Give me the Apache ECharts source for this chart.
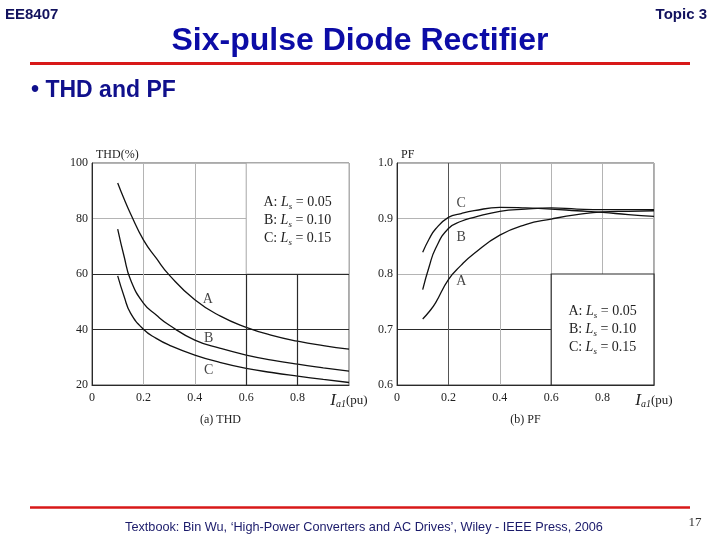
<!DOCTYPE html>
<html><head><meta charset="utf-8">
<script src="https://cdn.jsdelivr.net/npm/echarts@6/dist/echarts.min.js"></script>
<style>html,body{margin:0;padding:0;background:#fff}#c{width:720px;height:540px}</style>
</head><body><div id="c"></div>
<script>
// ---- data ----
const thdX = [0.1, 0.125, 0.15, 0.2, 0.25, 0.3, 0.4, 0.5, 0.6, 0.7, 0.8, 0.9, 1.0];
const thdA = [92.8, 87.0, 81.7, 72.3, 65.7, 59.7, 50.7, 44.8, 40.8, 37.9, 35.8, 34.2, 32.9];
const thdB = [76.2, 66.3, 57.9, 49.5, 45.2, 41.6, 36.2, 33.2, 30.8, 29.0, 27.5, 26.2, 25.0];
const thdC = [59.3, 51.9, 45.9, 40.1, 36.8, 34.4, 30.8, 28.1, 26.0, 24.5, 23.2, 22.0, 20.9];
const pfX = [0.1, 0.125, 0.15, 0.2, 0.25, 0.3, 0.4, 0.5, 0.6, 0.7, 0.8, 0.9, 1.0];
const pfA = [0.719, 0.732, 0.748, 0.790, 0.816, 0.837, 0.870, 0.889, 0.899, 0.907, 0.912, 0.913, 0.914];
const pfB = [0.772, 0.813, 0.846, 0.882, 0.895, 0.902, 0.913, 0.917, 0.919, 0.917, 0.916, 0.916, 0.916];
const pfC = [0.839, 0.863, 0.881, 0.902, 0.909, 0.914, 0.920, 0.919, 0.917, 0.914, 0.911, 0.907, 0.904];
const curveNames = ['A', 'B', 'C'];
const thdLabelPos = [[0.451, 50.7], [0.454, 36.8], [0.454, 25.4]];
const pfLabelPos = [[0.25, 0.786], [0.25, 0.866], [0.25, 0.928]];
const lsValues = ['0.05', '0.10', '0.15'];
const thdTicks = {min: 20, max: 100, interval: 20};
const pfTicks = {min: 0.6, max: 1.0, interval: 0.1};
const xTicks = {min: 0, max: 1, interval: 0.2};

// ---- styles ----
const SERIF = 'Liberation Serif';
const SANS = 'Liberation Sans';
const LIGHT = '#b4b4b4', DARK = '#2a2a2a';
const zip = (xs, ys) => xs.map((x, i) => [x, ys[i]]);

const legendText = curveNames.map((n, i) => `{n|${n}: }{i|L}{s|s}{n| = ${lsValues[i]}}`).join('\n');
const legendRich = {
  n: {fontFamily: SERIF, fontSize: 14, color: '#222', lineHeight: 18},
  i: {fontFamily: SERIF, fontSize: 14, fontStyle: 'italic', color: '#222', lineHeight: 18},
  s: {fontFamily: SERIF, fontSize: 9, fontStyle: 'italic', color: '#222', lineHeight: 9, verticalAlign: 'bottom'}
};
const xRich = {
  i: {fontFamily: SERIF, fontSize: 17, fontStyle: 'italic', color: '#222'},
  s: {fontFamily: SERIF, fontSize: 10, fontStyle: 'italic', color: '#222', verticalAlign: 'bottom', lineHeight: 10},
  n: {fontFamily: SERIF, fontSize: 13, color: '#222'}
};
function xAxisDef(idx, name, splitColors) {
  return {
    type: 'value', gridIndex: idx, min: xTicks.min, max: xTicks.max, interval: xTicks.interval,
    axisLine: {show: true, lineStyle: {color: DARK, width: 1}},
    axisTick: {show: false},
    splitLine: {show: true, lineStyle: {color: splitColors, width: 1}},
    axisLabel: {
      fontFamily: SERIF, fontSize: 12, color: '#222', margin: 7,
      formatter: v => Math.abs(v - 1) < 1e-9 ? '{i|I}{s|a1}{n|(pu)}' : (v === 0 ? '0' : v.toFixed(1)),
      rich: xRich
    },
    name: name, nameLocation: 'middle', nameGap: 29,
    nameTextStyle: {fontFamily: SERIF, fontSize: 12, color: '#222'}
  };
}
function yAxisDef(idx, t, name, digits, splitColors) {
  return {
    type: 'value', gridIndex: idx, min: t.min, max: t.max, interval: t.interval,
    axisLine: {show: true, lineStyle: {color: DARK, width: 1}},
    axisTick: {show: false},
    splitLine: {show: true, lineStyle: {color: splitColors, width: 1}},
    axisLabel: {fontFamily: SERIF, fontSize: 12, color: '#222', margin: 4,
      formatter: v => v.toFixed(digits)},
    name: name, nameLocation: 'end', nameGap: 2,
    nameTextStyle: {fontFamily: SERIF, fontSize: 12, color: '#222', align: 'left', padding: [0, 0, 0, 4]}
  };
}
function curve(idx, data, extra) {
  return Object.assign({
    type: 'line', xAxisIndex: idx, yAxisIndex: idx, data: data, smooth: 0.5,
    symbol: 'none', lineStyle: {color: '#111', width: 1.3}, silent: true, animation: false
  }, extra || {});
}
function labels(idx, pos) {
  return {
    type: 'scatter', xAxisIndex: idx, yAxisIndex: idx, symbolSize: 0, silent: true, animation: false,
    data: pos.map((p, i) => ({value: p, name: curveNames[i]})),
    label: {show: true, position: 'inside', formatter: '{b}', fontFamily: SERIF, fontSize: 14, color: '#111'}
  };
}

const option = {
  backgroundColor: '#fff',
  animation: false,
  grid: [
    {left: 92, top: 163, width: 257, height: 222, show: true, borderColor: '#555', borderWidth: 1},
    {left: 397, top: 163, width: 257, height: 222, show: true, borderColor: '#555', borderWidth: 1}
  ],
  xAxis: [
    xAxisDef(0, '(a) THD', [LIGHT, LIGHT, LIGHT, LIGHT, LIGHT, LIGHT]),
    xAxisDef(1, '(b) PF', [LIGHT, '#555', LIGHT, LIGHT, LIGHT, LIGHT])
  ],
  yAxis: [
    yAxisDef(0, thdTicks, 'THD(%)', 0, [LIGHT, DARK, DARK, LIGHT, LIGHT]),
    yAxisDef(1, pfTicks, 'PF', 1, [LIGHT, DARK, LIGHT, LIGHT, LIGHT])
  ],
  series: [
    curve(0, zip(thdX, thdA), {
      markArea: {silent: true,
        itemStyle: {color: '#fff', borderColor: '#aaa', borderWidth: 1},
        label: {show: true, position: 'inside', formatter: legendText, rich: legendRich, offset: [0, 2]},
        data: [[{coord: [0.6, 60]}, {coord: [1.0, 100]}]]}
    }),
    curve(0, zip(thdX, thdB)),
    curve(0, zip(thdX, thdC), {
      markLine: {silent: true, symbol: 'none', label: {show: false},
        lineStyle: {color: DARK, width: 1.2, type: 'solid'},
        data: [
          [{coord: [0.6, 60]}, {coord: [1.0, 60]}],
          [{coord: [0.6, 20]}, {coord: [0.6, 60]}],
          [{coord: [0.8, 20]}, {coord: [0.8, 60]}]
        ]}
    }),
    labels(0, thdLabelPos),
    curve(1, zip(pfX, pfA), {
      markArea: {silent: true,
        itemStyle: {color: '#fff', borderColor: DARK, borderWidth: 1.2},
        label: {show: true, position: 'inside', formatter: legendText, rich: legendRich},
        data: [[{coord: [0.6, 0.6]}, {coord: [1.0, 0.8]}]]}
    }),
    curve(1, zip(pfX, pfB)),
    curve(1, zip(pfX, pfC)),
    labels(1, pfLabelPos)
  ],
  graphic: [
    {type: 'text', left: 5, top: 7, style: {text: 'EE8407', font: 'bold 15px ' + SANS, fill: '#12125e'}},
    {type: 'text', right: 13, top: 7, style: {text: 'Topic 3', font: 'bold 15px ' + SANS, fill: '#12125e'}},
    {type: 'text', x: 360, y: 41, style: {text: 'Six-pulse Diode Rectifier', font: 'bold 32px ' + SANS,
      fill: '#0c0ca6', align: 'center', verticalAlign: 'middle'}},
    {type: 'line', shape: {x1: 30, y1: 63.5, x2: 690, y2: 63.5}, style: {stroke: '#d81818', lineWidth: 3}},
    {type: 'text', x: 31, y: 91, style: {text: '• THD and PF', font: 'bold 23px ' + SANS,
      fill: '#10108c', verticalAlign: 'middle'}},
    {type: 'line', shape: {x1: 30, y1: 507.5, x2: 690, y2: 507.5}, style: {stroke: '#d81818', lineWidth: 2.5}},
    {type: 'text', x: 364, y: 527, style: {text: 'Textbook: Bin Wu, \u2018High-Power Converters and AC Drives\u2019, Wiley - IEEE Press, 2006',
      font: '12.7px ' + SANS, fill: '#1a1a6a', align: 'center', verticalAlign: 'middle'}},
    {type: 'text', x: 695, y: 523, style: {text: '17', font: '13px ' + SERIF, fill: '#333', align: 'center', verticalAlign: 'middle'}}
  ]
};
const chart = echarts.init(document.getElementById('c'), null, {renderer: 'canvas'});
chart.setOption(option);
</script></body></html>
